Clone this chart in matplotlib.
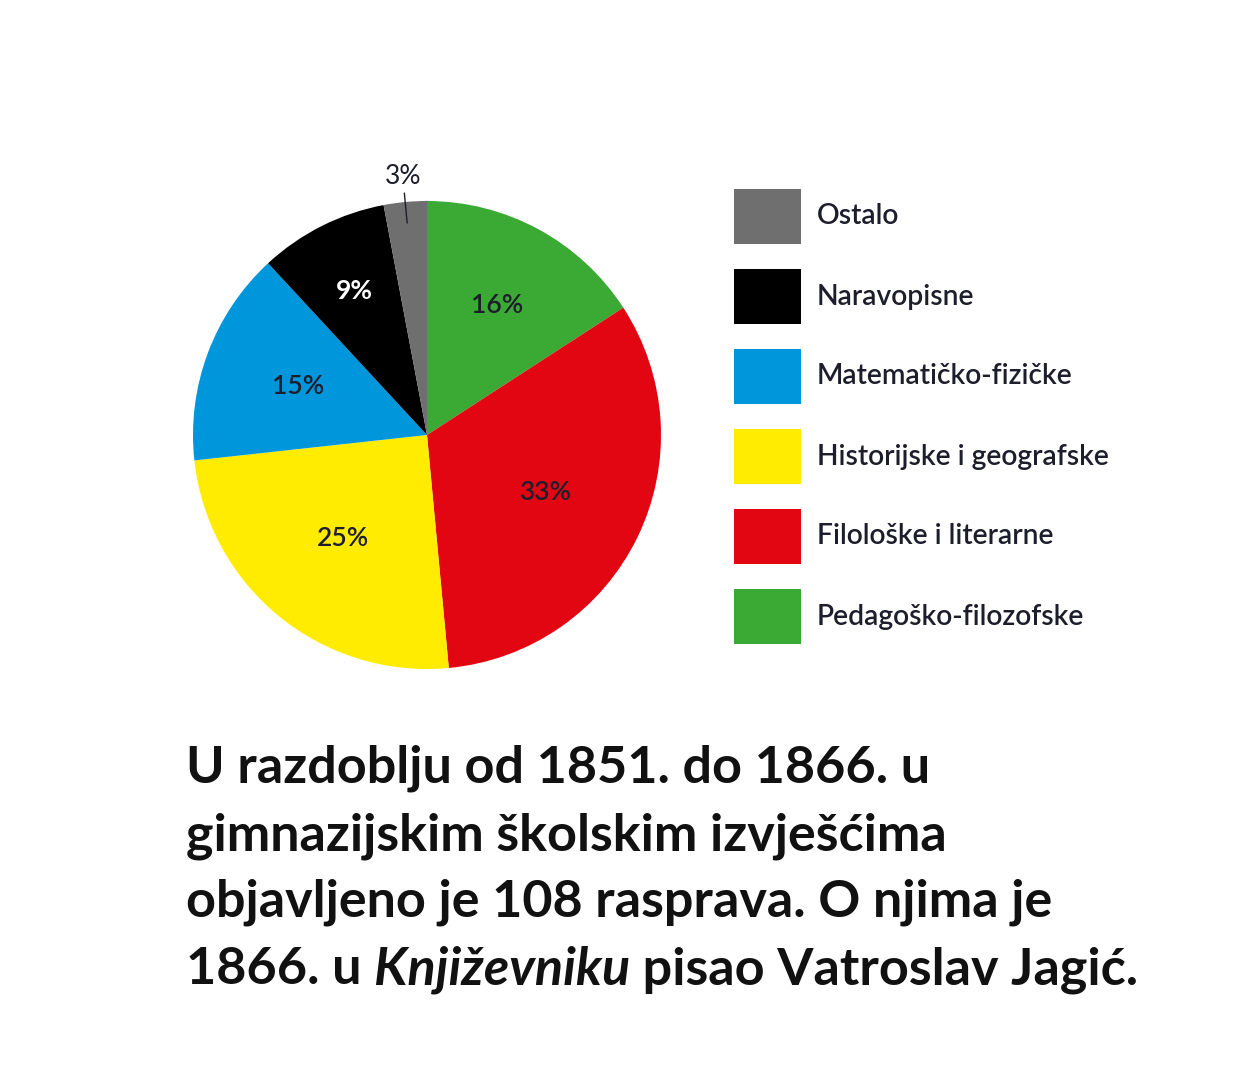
import numpy as np
import matplotlib
matplotlib.use('Agg')
import matplotlib.pyplot as plt
from matplotlib.patches import Rectangle

# slices clockwise from 12 o'clock
categories = ['Pedagoško-filozofske', 'Filološke i literarne', 'Historijske i geografske',
              'Matematičko-fizičke', 'Naravopisne', 'Ostalo']
shares = [16, 33, 25, 15, 9, 3]
colors = ['#3aaa35', '#e20613', '#ffec00', '#0096db', '#000000', '#6f6f6f']
label_dist = [0.63, 0.56, 0.57, 0.59, 0.69, None]
label_colors = ['#1d1d2b', '#1d1d2b', '#1d1d2b', '#1d1d2b', 'white', '#1d1d2b']

caption = ['U razdoblju od 1851. do 1866. u',
           'gimnazijskim školskim izvješćima',
           'objavljeno je 108 rasprava. O njima je']
last_line = ['1866. u ', 'Književniku', ' pisao Vatroslav Jagić.']

plt.rcParams['font.family'] = ['Lato', 'DejaVu Sans']

W, H = 1247, 1080
fig = plt.figure(figsize=(W / 100, H / 100), dpi=100)
fig.patch.set_facecolor('white')

cx, cy, r = 427, 435, 234
ax = fig.add_axes([(cx - r) / W, (H - cy - r) / H, 2 * r / W, 2 * r / H])
wedges, _ = ax.pie(shares, colors=colors, startangle=90, counterclock=False,
                   radius=1.0, wedgeprops=dict(linewidth=0))
ax.set_xlim(-1, 1)
ax.set_ylim(-1, 1)
ax.set_aspect('equal')
ax.axis('off')

for w, val, d, tc in zip(wedges, shares, label_dist, label_colors):
    mid = np.deg2rad((w.theta1 + w.theta2) / 2)
    if d is None:
        ax.annotate(f'{val}%', xy=(0.91 * np.cos(mid), 0.91 * np.sin(mid)),
                    xytext=(1.11 * np.cos(mid), 1.11 * np.sin(mid)),
                    ha='center', va='center', fontsize=19, color=tc,
                    arrowprops=dict(arrowstyle='-', color='#1d1d2b', lw=1,
                                    shrinkA=1, shrinkB=0), annotation_clip=False)
    else:
        ax.text(d * np.cos(mid), d * np.sin(mid), f'{val}%', ha='center', va='center',
                fontsize=19, color=tc, fontweight='bold' if tc == 'white' else 'semibold')

# legend drawn by hand, top entry is the last slice
box_x, box_w, box_h = 734, 67, 55
top0, row = 189, 80
for i, (name, col) in enumerate(zip(categories[::-1], colors[::-1])):
    top = top0 + i * row
    fig.patches.append(Rectangle((box_x / W, 1 - (top + box_h) / H), box_w / W, box_h / H,
                                 transform=fig.transFigure, facecolor=col,
                                 edgecolor='none'))
    fig.text(817 / W, 1 - (top + box_h / 2) / H, name, fontsize=20.3,
             fontweight='semibold', color='#1d1d2b', ha='left', va='center')

# caption
cfs = 37.5
y0 = 783
step = 67
for i, line in enumerate(caption):
    fig.text(186 / W, 1 - (y0 + i * step) / H, line, fontsize=cfs, fontweight='bold',
             color='#111111', ha='left', va='baseline')
first = fig.text(186 / W, 1 - (y0 + 3 * step) / H, last_line[0], fontsize=cfs,
                 fontweight='bold', color='#111111', ha='left', va='baseline')
parts = []
for j, part in enumerate(last_line[1:]):
    parts.append(fig.text(0, 1 - (y0 + 3 * step) / H, part, fontsize=cfs,
                          fontweight='bold', color='#111111',
                          style='italic' if j == 0 else 'normal',
                          ha='left', va='baseline'))

# place the pieces of the last line one after another
fig.canvas.draw()
renderer = fig.canvas.get_renderer()
x = first.get_window_extent(renderer).x1
for t in parts:
    t.set_x(x / W)
    fig.canvas.draw()
    x = t.get_window_extent(renderer).x1

fig.savefig('out.png', dpi=100, facecolor='white')
